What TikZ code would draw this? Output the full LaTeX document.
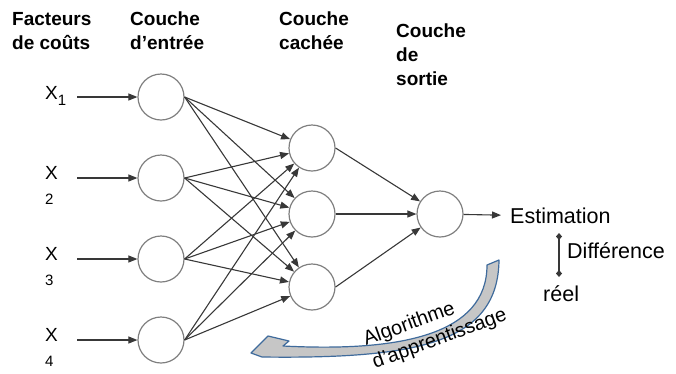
\documentclass[tikz,border=0pt]{standalone}
\usepackage{fontspec}
\setmainfont{Liberation Sans}
\usetikzlibrary{arrows.meta}
\definecolor{linegray}{HTML}{383838}
\definecolor{ringgray}{HTML}{7F7F7F}
\definecolor{arrowblue}{HTML}{3F6B9C}
\definecolor{arrowfill}{HTML}{C6C6C6}
\begin{document}
\begin{tikzpicture}[x=1pt,y=-1pt,
  neuron/.style={circle,draw=ringgray,line width=1.2pt,minimum size=46pt,inner sep=0pt},
  link/.style={draw=linegray,line width=1.1pt,-{Triangle[length=9pt,width=7pt]}},
  heading/.style={font=\fontsize{19}{24}\selectfont\bfseries,align=left,anchor=north west,inner sep=0pt},
  lbl/.style={font=\fontsize{21.5}{24}\selectfont,inner sep=0pt,anchor=base west}]
\useasboundingbox (0,0) rectangle (676,373);

% Column headings
\node[heading] (hfact) at (12,12) {Facteurs\\de coûts};
\node[heading] (hin) at (130,12) {Couche\\d’entrée};
\node[heading] (hhid) at (279,12) {Couche\\cachée};
\node[heading] (hout) at (396,24) {Couche\\de\\sortie};

% Input layer with cost factors
\node[font=\fontsize{19}{24}\selectfont,anchor=north west,inner sep=0pt] (x1) at (45,86)
  {X\raisebox{-6pt}{\fontsize{15}{15}\selectfont 1}};
\foreach \i/\y in {2/178,3/259,4/340} {
  \node[font=\fontsize{19}{25}\selectfont,align=left,anchor=north west,inner sep=0pt] (x\i) at (45,\y-12)
    {X\\{\fontsize{15}{15}\selectfont \i}};
}
\foreach \i/\y in {1/97,2/178,3/259,4/340} {
  \node[neuron] (in\i) at (161,\y) {};
  \coordinate (src\i) at (77,\y);
  \draw[link] (src\i) -- (in\i);
}

% Hidden and output layers
\foreach \j/\y in {1/148,2/214,3/287}
  \node[neuron] (hid\j) at (312,\y) {};
\node[neuron] (out) at (440,214) {};

% Connections
\foreach \i in {1,...,4}
  \foreach \j in {1,2,3}
    \draw[link] (in\i.east) -- (hid\j);
\foreach \j in {1,2,3}
  \draw[link] (hid\j.east) -- (out);

% Estimation vs. real value
\node[lbl] (est) at (510,223) {Estimation};
\draw[link] (out) -- (est.west) [shorten >=9pt];
\node[lbl] (diff) at (567,258) {Différence};
\node[lbl] (reel) at (543,301) {réel};
\coordinate (dtop) at (559,233);
\coordinate (dbot) at (559,277);
\draw[draw=linegray,line width=1.2pt,{Diamond[length=7pt,width=6pt]}-{Diamond[length=7pt,width=6pt]}] (dtop) -- (dbot);

% Learning algorithm feedback arrow
\filldraw[fill=arrowfill,draw=arrowblue,line width=1.2pt,line join=round]
  (487,265) -- (499,260)
  .. controls (498,342) and (420,359) .. (262,357)
  -- (251,353) -- (268,336) -- (289,341) -- (283,346)
  .. controls (400,352) and (487,335) .. (487,265) -- cycle;
\node[font=\fontsize{20}{24}\selectfont,inner sep=0pt,anchor=base west,rotate=20] (alg1) at (366,346) {Algorithme};
\node[font=\fontsize{20}{24}\selectfont,inner sep=0pt,anchor=base west,rotate=20] (alg2) at (375,368.5) {d’apprentissage};
\end{tikzpicture}
\end{document}
